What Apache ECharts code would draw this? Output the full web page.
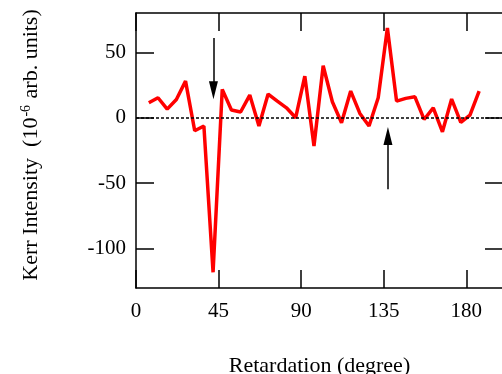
<!DOCTYPE html>
<html>
<head>
<meta charset="utf-8">
<script src="https://cdn.jsdelivr.net/npm/echarts@6/dist/echarts.min.js"></script>
<style>
  html, body { margin: 0; padding: 0; background: #fff; }
  #main { width: 502px; height: 374px; }
</style>
</head>
<body>
<div id="main"></div>
<script>
// retardation angle (degree) and Kerr signal (1e-6 arb. units)
const retardation = [7, 12, 17, 22, 27, 32, 37, 42, 47, 52, 57, 62, 67, 72, 77, 82, 87, 92, 97,
  102, 107, 112, 117, 122, 127, 132, 137, 142, 147, 152, 157, 162, 167, 172, 177, 182, 187];
const kerr = [11.5, 15.3, 6.6, 14, 28, -9.9, -6.3, -118, 21.7, 5.9, 4.4, 17.3, -6.3, 18.1, 12.7, 7.6, 0,
  31.8, -21.6, 39.7, 12.2, -3.8, 20.4, 3.3, -6.3, 15.3, 68.5, 12.7, 14.8, 16, -1.3, 7.6, -10.7, 14.3, -3.5, 2.1, 20.4];
const xTicks = [0, 45, 90, 135, 180];
const yTicks = [-100, -50, 0, 50];
// annotation arrows: [x, yFrom, yTo]  (head is centred on yTo)
const arrows = [[42.2, 61, 21], [137.3, -54.5, -14]];

const font = 'Liberation Serif';
const chart = echarts.init(document.getElementById('main'));

function frameAxis(extra) {
  return Object.assign({
    type: 'value',
    axisLine: { show: true, onZero: false, lineStyle: { color: '#000', width: 1.5 } },
    splitLine: { show: false }
  }, extra);
}
const tick = (vals) => ({ show: true, inside: true, length: 18, customValues: vals, lineStyle: { color: '#000', width: 1.5 } });

chart.setOption({
  animation: false,
  grid: { left: 136, top: 13, right: -1, bottom: 86, containLabel: false, outerBoundsMode: 'none' },
  xAxis: [
    frameAxis({
      min: 0, max: 200, position: 'bottom',
      axisTick: tick(xTicks),
      axisLabel: { customValues: xTicks, color: '#000', fontFamily: font, fontSize: 21, margin: 13 },
      name: 'Retardation (degree)', nameLocation: 'middle', nameGap: 67,
      nameTextStyle: { color: '#000', fontFamily: font, fontSize: 22 }
    }),
    frameAxis({ min: 0, max: 200, position: 'top', axisTick: tick(xTicks), axisLabel: { show: false } })
  ],
  yAxis: [
    frameAxis({
      min: -130, max: 80, position: 'left',
      axisTick: tick(yTicks),
      axisLabel: { customValues: yTicks, color: '#000', fontFamily: font, fontSize: 21, margin: 10 }
    }),
    frameAxis({ min: -130, max: 80, position: 'right', axisTick: tick(yTicks), axisLabel: { show: false } })
  ],
  graphic: [{
    type: 'text',
    x: 31, y: 145, rotation: Math.PI / 2,
    style: {
      text: 'Kerr Intensity  (10{sup|-6} arb. units)',
      fontFamily: font, fontSize: 22, fill: '#000',
      align: 'center', verticalAlign: 'middle',
      rich: { sup: { fontFamily: font, fontSize: 14, verticalAlign: 'top', padding: [0, 1, 10, 1] } }
    }
  }],
  series: [{
    type: 'line',
    data: retardation.map((x, i) => [x, kerr[i]]),
    showSymbol: false,
    lineStyle: { color: '#ff0000', width: 3.5 },
    z: 3,
    markLine: {
      silent: true, symbol: 'none', label: { show: false },
      lineStyle: { color: '#000', width: 1.5, type: [3, 2] },
      data: [{ yAxis: 0 }]
    }
  }, {
    type: 'line',
    data: [],
    markLine: {
      silent: true, label: { show: false },
      symbol: ['none', 'triangle'], symbolSize: [9, 18],
      lineStyle: { color: '#000', width: 1.5, type: 'solid' },
      itemStyle: { color: '#000' },
      data: arrows.map(a => [{ coord: [a[0], a[1]] }, { coord: [a[0], a[2]] }])
    }
  }]
});
</script>
</body>
</html>
